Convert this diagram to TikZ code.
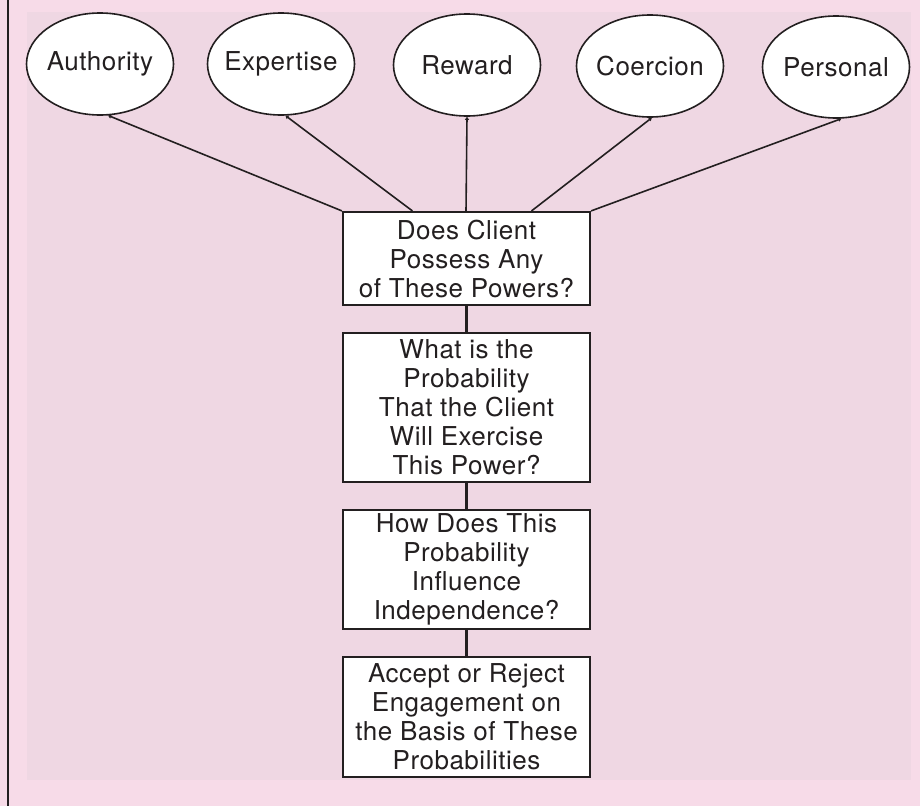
\documentclass[tikz,border=0pt]{standalone}
\usepackage{fontspec}
\setmainfont{TeX Gyre Heros}[LetterSpace=2]
\usetikzlibrary{shapes.geometric,calc,arrows.meta}
\definecolor{outerpink}{HTML}{F7DBE8}
\definecolor{innerpink}{HTML}{EFD7E3}
\definecolor{ink}{HTML}{231F20}
\tikzset{
  power/.style={ellipse,draw=ink,line width=1.6pt,fill=white,minimum width=147pt,minimum height=102pt,inner sep=0pt,font=\fontsize{26}{29}\selectfont,text=ink},
  stepbox/.style={rectangle,draw=ink,line width=2.2pt,fill=white,minimum width=247pt,inner sep=0pt,align=center,font=\fontsize{26}{29}\selectfont,text=ink},
  link/.style={draw=ink,line width=2.4pt},
  tiplink/.style={draw=ink,line width=1.6pt,{Triangle[length=3pt,width=4pt]}-}
}
\begin{document}
\begin{tikzpicture}[x=1pt,y=-1pt]
\fill[outerpink] (0,0) rectangle (920,806);
\useasboundingbox (0,0) rectangle (920,806);
\fill[innerpink] (27,12) rectangle (911,780);
\draw[ink,line width=2pt] (8,0) -- (8,806);
% ellipses
\node[power] (auth) at (100,64) {\makebox[0pt]{Authority}};
\node[power] (expe) at (281,64) {\makebox[0pt]{Expertise}};
\node[power] (rewa) at (467,65) {\makebox[0pt]{Reward}};
\node[power] (coer) at (650,66) {\makebox[0pt]{Coercion}};
\node[power] (pers) at (836,67) {\makebox[0pt]{Personal}};
% boxes
\node[stepbox,minimum height=93pt] (b1) at (466.5,258.5) {Does Client\\Possess Any\\of These Powers?};
\node[stepbox,minimum height=149pt] (b2) at (466.5,407.5) {What is the\\Probability\\That the Client\\Will Exercise\\This Power?};
\node[stepbox,minimum height=119pt] (b3) at (466.5,569.5) {How Does This\\Probability\\Influence\\Independence?};
\node[stepbox,minimum height=120pt] (b4) at (466.5,717) {Accept or Reject\\Engagement on\\the Basis of These\\Probabilities};
% connection points on box 1
\coordinate (t1) at (b1.north west);
\coordinate (t2) at ($(b1.north west)!0.283!(b1.north east)$);
\coordinate (t3) at ($(b1.north west)!0.498!(b1.north east)$);
\coordinate (t4) at ($(b1.north west)!0.761!(b1.north east)$);
\coordinate (t5) at (b1.north east);
\draw[tiplink] (auth.-81) -- (t1);
\draw[tiplink] (expe.-85) -- (t2);
\draw[tiplink] (rewa.south) -- (t3);
\draw[tiplink] (coer.-88) -- (t4);
\draw[tiplink] (pers.-84) -- (t5);
\draw[link] (b1.south) -- (b2.north);
\draw[link] (b2.south) -- (b3.north);
\draw[link] (b3.south) -- (b4.north);
\end{tikzpicture}
\end{document}
